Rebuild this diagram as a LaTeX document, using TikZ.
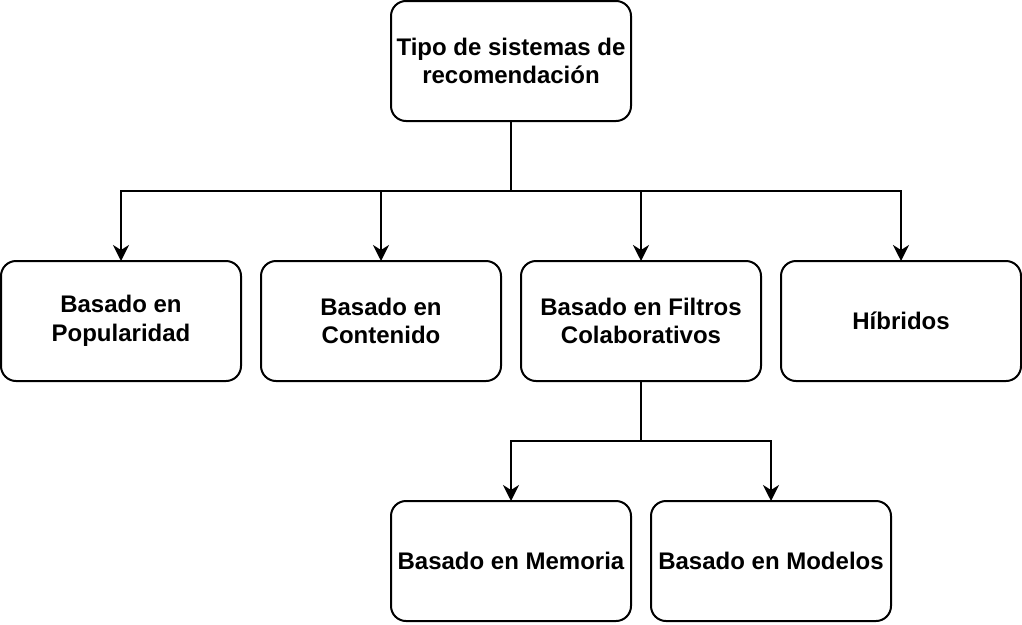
\documentclass[tikz,border=0pt]{standalone}
\usepackage{fontspec}
\setmainfont{Liberation Sans}
\usetikzlibrary{positioning,arrows.meta,calc}

\begin{document}
\begin{tikzpicture}[
    x=1pt, y=1pt,
    node distance = 20pt,
    base/.style={draw=black,line width=2pt,rounded corners=15pt,outer sep=0pt,
                 minimum width=240pt,minimum height=120pt,inner sep=4pt,align=center,
                 font={\fontsize{24}{28.8}\selectfont\bfseries}},
    conn/.style={line width=2pt,-{Stealth[length=16pt,width=16pt,inset=5pt]}},
]

    \useasboundingbox (0,0) rectangle (1022,-624);

    \node[base] (tipo) at (511,-61) {Tipo de sistemas de\\recomendación};

    \node[base] (popular) at (121,-321)       {Basado en\\Popularidad};
    \node[base,right=of popular] (contenido)  {Basado en\\Contenido};
    \node[base,right=of contenido] (filtros)  {Basado en Filtros\\Colaborativos};
    \node[base,right=of filtros] (hibridos)   {Híbridos};

    \node[base] (memoria) at (511,-561)       {Basado en Memoria};
    \node[base,right=of memoria] (modelos)    {Basado en Modelos};

    \coordinate (split0) at ($(tipo.south)+(0,-70)$);
    \coordinate (split1) at ($(filtros.south)+(0,-60)$);

    \draw[line width=2pt] (tipo.south) -- (split0);
    \draw[conn] (split0) -| (popular.north);
    \draw[conn] (split0) -| (contenido.north);
    \draw[conn] (split0) -| (filtros.north);
    \draw[conn] (split0) -| (hibridos.north);

    \draw[line width=2pt] (filtros.south) -- (split1);
    \draw[conn] (split1) -| (memoria.north);
    \draw[conn] (split1) -| (modelos.north);

\end{tikzpicture}
\end{document}
